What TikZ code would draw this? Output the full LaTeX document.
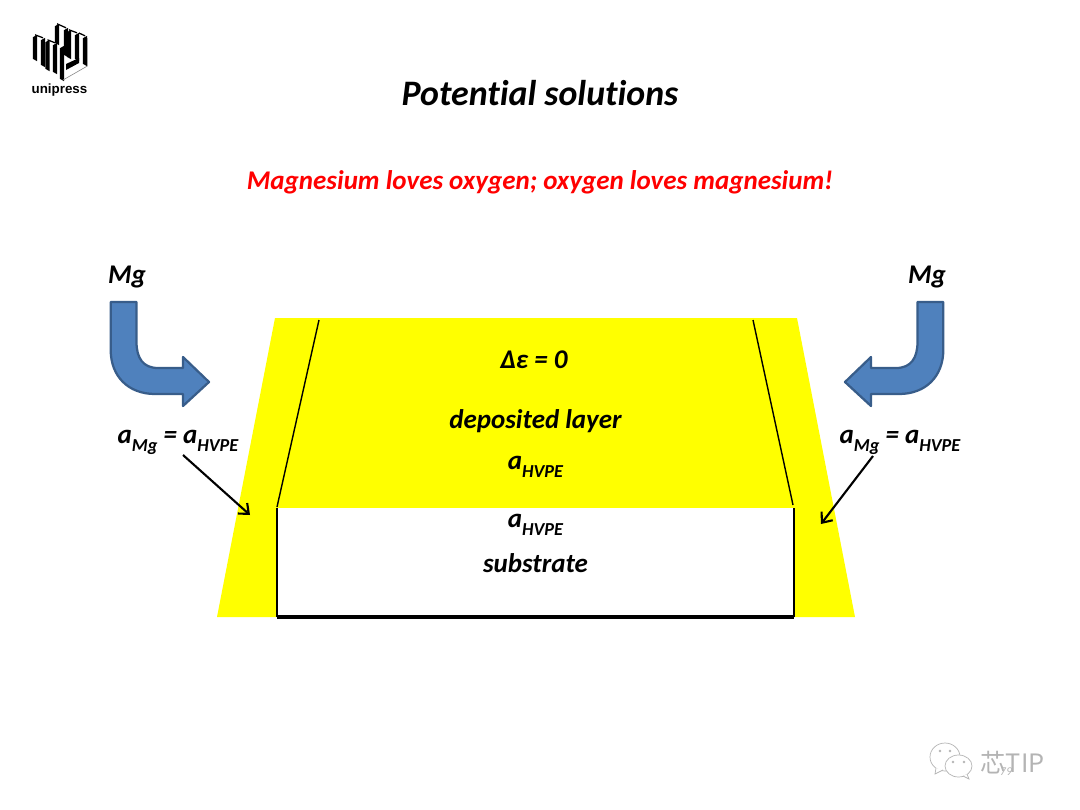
\documentclass[tikz,border=0pt]{standalone}
\usepackage{fontspec}
\setmainfont[Ligatures=NoCommon]{Carlito}
\newfontfamily\cjk{Noto Sans CJK SC}
\newfontfamily\logofont{Liberation Sans}
\usetikzlibrary{arrows.meta}
\definecolor{slideyellow}{RGB}{255,255,0}
\definecolor{slidered}{RGB}{255,0,0}
\definecolor{arrowblue}{HTML}{4F81BD}
\definecolor{arrowedge}{HTML}{385D8A}
\definecolor{markgray}{HTML}{B4B4B4}
\newcommand{\lowtxt}[1]{\raisebox{-.3em}{\fontsize{13}{13}\selectfont #1}}
\tikzset{
  bolditalic/.style={font=\bfseries\itshape\fontsize{#1}{#1}\selectfont,inner sep=0pt},
  bluebend/.style={draw=arrowedge,fill=arrowblue,line width=1.6pt,line join=round},
  pointer/.style={-{Straight Barb[length=6pt,width=10pt]},line width=1.5pt},
  wall/.style={line width=1pt},
  bubble/.style={draw=markgray,fill=white,line width=.5pt}
}
\begin{document}
\begin{tikzpicture}[x=0.025cm,y=-0.025cm]
\useasboundingbox(0,0)rectangle(1080,810);
% yellow body and substrate
\fill[slideyellow](275,318)--(797,318)--(855,617)--(217,617)--cycle;
\fill[white](277,508)rectangle(794,617);
\coordinate(sl) at (319,320); \coordinate(el) at (277,507);
\coordinate(sr) at (753,320); \coordinate(er) at (793,505);
\coordinate(bl) at (277,508); \coordinate(cl) at (277,617);
\coordinate(br) at (794,508); \coordinate(cr) at (794,617);
\draw[wall](sl)--(el);
\draw[wall](sr)--(er);
\draw[wall](bl)--(cl);
\draw[wall](br)--(cr);
\draw[line width=2.3pt](cl)--(cr);
% bent arrows, the second one mirrored
\foreach \s/\o in {1/0,-1/1054}
  \draw[bluebend,xshift=0.025cm*\o,xscale=\s](110.7,302)--(136.5,302)--(136.5,342)
    .. controls (136.5,358) and (143,368) .. (158,368)--(183,368)--(183,357)--(209,382)
    --(183,406)--(183,394)--(155,394) .. controls (128,394) and (110.7,376) .. (110.7,350)--cycle;
% texts
\node[bolditalic=25.5](title) at (540,93){Potential solutions};
\node[bolditalic=19.2,text=slidered](motto) at (540,182){Magnesium loves oxygen; oxygen loves magnesium!};
\node[bolditalic=19.2](mgl) at (127,277){Mg};
\node[bolditalic=19.2](mgr) at (927,277){Mg};
\node[bolditalic=19.2](ael) at (178,442){a\lowtxt{Mg} = a\lowtxt{HVPE}};
\node[bolditalic=19.2](aer) at (900,442){a\lowtxt{Mg} = a\lowtxt{HVPE}};
\node[bolditalic=19.2](strain) at (534,360){Δε = 0};
\node[bolditalic=19.2](layer) at (535.5,421){deposited layer};
\node[bolditalic=19.2](aup) at (535.5,467){a\lowtxt{HVPE}};
\node[bolditalic=19.2](adown) at (535.5,525){a\lowtxt{HVPE}};
\node[bolditalic=19.2](sub) at (535.5,563){substrate};
% pointers
\coordinate(pl) at (183,455); \coordinate(ql) at (250,515);
\coordinate(pr) at (873,456); \coordinate(qr) at (821,524);
\draw[pointer](pl)--(ql);
\draw[pointer](pr)--(qr);
% logo
\foreach \x/\t/\b in {35/36/60,43/39/66,47.5/41/70,55/44/73,57/25/44,66/29/56,69/31/58,77/34/60,85/37/65,62/47/80}
  \fill(\x-2.1,\t+1.2)--(\x+2.1,\t-1.2)--(\x+2.1,\b+1.2)--(\x-2.1,\b-1.2)--cycle;
\foreach \a/\b/\c/\d in {35/34.8/43/37.8,47.5/39.8/55/42.8,57/23.8/66/27.8,69/29.8/77/32.8,79/33/85/35.8}
  \draw[line width=.9pt](\a,\b)--(\c,\d);
\fill(66,64)--(66,70)--(79,63)--(79,58)--cycle;
\draw[gray,line width=.4pt](63,80)--(87.4,66)--(87.4,38);
\node[font=\logofont\bfseries\fontsize{9.5}{9.5}\selectfont,inner sep=0pt](unipress) at (59.5,90){unipress};
% mark
\draw[bubble](945,757) ellipse[x radius=15,y radius=14];
\draw[bubble](936,768)--(935,774)--(943,770);
\draw[bubble](958.5,766) ellipse[x radius=13.5,y radius=11];
\draw[bubble](963,776)--(969,779)--(967,774);
\foreach \x in {940,950}
  \fill[markgray](\x,751) circle[radius=1.3];
\foreach \x in {953,964}
  \fill[markgray](\x,762) circle[radius=1.3];
\node[font=\cjk\fontsize{18}{18}\selectfont,text=markgray,inner sep=0pt](chip) at (1012.5,763){芯TIP};
\node[font=\itshape\fontsize{8.5}{8.5}\selectfont,text=markgray,inner sep=0pt](page) at (1006,772){79};
\end{tikzpicture}
\end{document}
